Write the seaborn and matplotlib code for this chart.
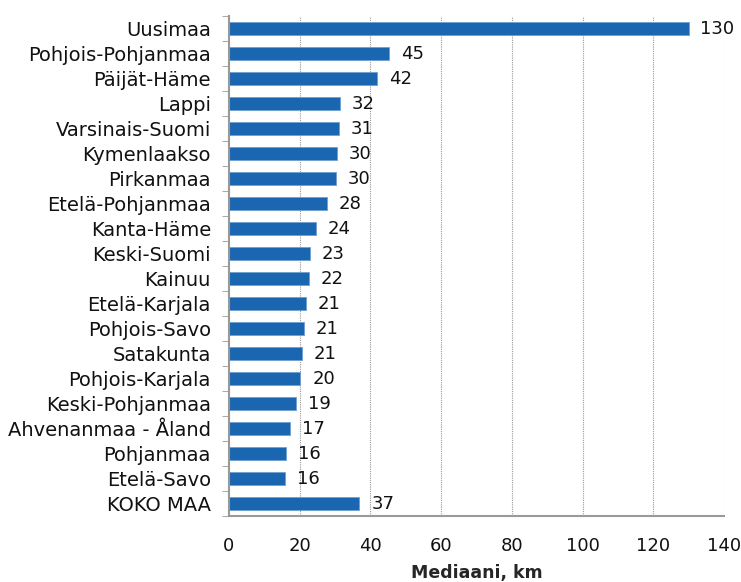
import pandas as pd
import matplotlib.pyplot as plt
import seaborn as sns
from matplotlib.ticker import FixedLocator

# alueet ja mediaanit (km)
alueet = ['Uusimaa', 'Pohjois-Pohjanmaa', 'Päijät-Häme', 'Lappi', 'Varsinais-Suomi',
          'Kymenlaakso', 'Pirkanmaa', 'Etelä-Pohjanmaa', 'Kanta-Häme', 'Keski-Suomi',
          'Kainuu', 'Etelä-Karjala', 'Pohjois-Savo', 'Satakunta', 'Pohjois-Karjala',
          'Keski-Pohjanmaa', 'Ahvenanmaa - Åland', 'Pohjanmaa', 'Etelä-Savo', 'KOKO MAA']
mediaani = [130.0, 45.4, 41.9, 31.5, 31.1, 30.5, 30.3, 27.8, 24.6, 22.9,
            22.6, 21.7, 21.2, 20.7, 20.2, 18.9, 17.4, 16.2, 15.8, 36.9]
nayta = [130, 45, 42, 32, 31, 30, 30, 28, 24, 23, 22, 21, 21, 21, 20, 19, 17, 16, 16, 37]

df = pd.DataFrame({'alue': alueet, 'km': mediaani})

sns.set_style('white')
plt.rcParams['font.family'] = ['DejaVu Sans']

fig = plt.figure(figsize=(7.41, 5.82), dpi=100)
ax = fig.add_axes([0.309, 0.1134, 0.668, 0.8591])

sns.barplot(data=df, x='km', y='alue', orient='h', color='#1a66b0',
            width=0.5, saturation=1, edgecolor='#6f9fd0', linewidth=0.6, ax=ax)
ax.bar_label(ax.containers[0], labels=[str(v) for v in nayta], padding=8.5,
             fontsize=13, color='#111111')

ax.set_xlim(0, 140)
ax.set_ylim(len(alueet) - 0.5, -0.5)
ax.set_xticks(range(0, 141, 20))
ax.tick_params(axis='x', labelsize=13, length=5, color='#999999', labelcolor='#111111', pad=10)
ax.tick_params(axis='y', labelsize=14, length=0, labelcolor='#111111', pad=13)
ax.yaxis.set_minor_locator(FixedLocator([i - 0.5 for i in range(len(alueet) + 1)]))
ax.tick_params(axis='y', which='minor', length=5, color='#999999', left=True)

for x in range(20, 141, 20):
    ax.axvline(x, color='#999999', linestyle=(0, (1, 1)), linewidth=0.8, zorder=0)

for s in ['top', 'right']:
    ax.spines[s].set_visible(False)
ax.spines['left'].set_color('#999999')
ax.spines['bottom'].set_color('#999999')
ax.spines['left'].set_linewidth(1.5)
ax.spines['bottom'].set_linewidth(1.5)

ax.set_ylabel('')
ax.set_xlabel('Mediaani, km', fontsize=12.5, fontweight='bold', labelpad=6.5)

plt.savefig('out.png', dpi=100)
